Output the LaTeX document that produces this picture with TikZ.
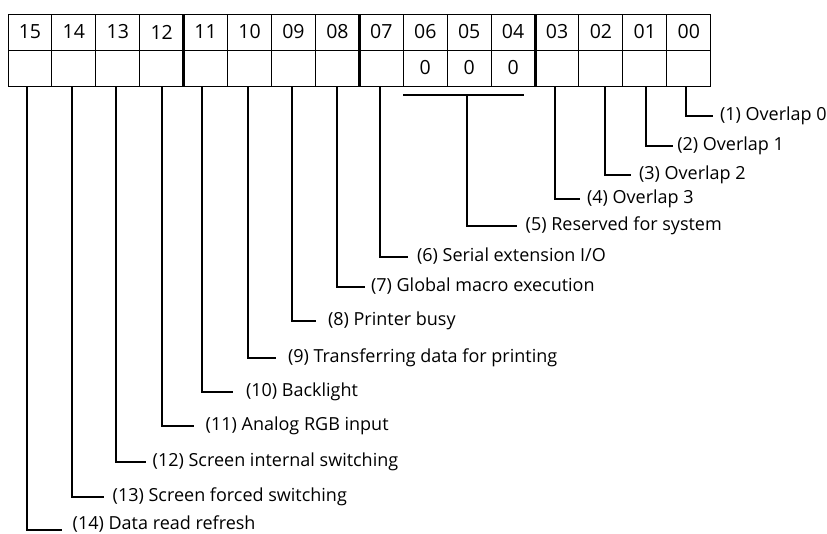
\documentclass[tikz,border=0pt]{standalone}
\usepackage{fontspec}
\setmainfont{Open Sans}
\begin{document}
\begin{tikzpicture}[x=1pt,y=-1pt,
  cell/.style={draw=black,line width=1pt,minimum width=43.92pt,minimum height=36pt,inner sep=0pt,outer sep=0pt,font=\fontsize{19.5}{22}\selectfont},
  divider/.style={line width=3pt},
  conn/.style={line width=2pt},
  lab/.style={anchor=west,inner sep=0pt,outer sep=0pt,text height=13.5pt,text depth=4.5pt,font=\fontsize{18}{21}\selectfont}]
\useasboundingbox (0,0) rectangle (827,533);
% bit table
\foreach \b/\v [count=\i from 0] in {15/,14/,13/,12/,11/,10/,09/,08/,07/,06/0,05/0,04/0,03/,02/,01/,00/}{
  \node[cell] (h\b) at ({8+43.92*(\i+0.5)},32) {\b};
  \node[cell] (c\b) at ({8+43.92*(\i+0.5)},68) {\v};
}
\draw[divider] (h12.north east) -- (c12.south east);
\draw[divider] (h08.north east) -- (c08.south east);
\draw[divider] (h04.north east) -- (c04.south east);
% labels
\node[lab] (l1)  at (720,115.7)   {(1) Overlap 0};
\node[lab] (l2)  at (677.3,145.7) {(2) Overlap 1};
\node[lab] (l3)  at (639,174.5)   {(3) Overlap 2};
\node[lab] (l4)  at (587,199.3)   {(4) Overlap 3};
\node[lab] (l5)  at (525.7,226)   {(5) Reserved for system};
\node[lab] (l6)  at (417,256.7)   {(6) Serial extension I/O};
\node[lab] (l7)  at (371,286.7)   {(7) Global macro execution};
\node[lab] (l8)  at (328,321)     {(8) Printer busy};
\node[lab] (l9)  at (288,358.3)   {(9) Transferring data for printing};
\node[lab] (l10) at (246,391.7)   {(10) Backlight};
\node[lab] (l11) at (205.7,426)   {(11) Analog RGB input};
\node[lab] (l12) at (152.7,462.3) {(12) Screen internal switching};
\node[lab] (l13) at (112.7,496.7) {(13) Screen forced switching};
\node[lab] (l14) at (72.7,524.5)  {(14) Data read refresh};
% connectors
\draw[conn] ([xshift=-2.7pt]c00.south) |- ([xshift=-6.7pt]l1.west);
\draw[conn] ([xshift=1.5pt]c01.south) |- ([xshift=-4pt]l2.west);
\draw[conn] ([xshift=3.7pt]c02.south) |- ([xshift=-8.3pt]l3.west);
\draw[conn] ([xshift=-2pt]c03.south) |- ([xshift=-7pt]l4.west);
\coordinate (bl) at ([yshift=-9pt]c06.south west);
\coordinate (br) at ([xshift=-11pt,yshift=-9pt]c04.south east);
\coordinate (bm) at ([xshift=-2pt,yshift=-9pt]c05.south);
\draw[conn] (bl) -- (br);
\draw[conn] (bm) |- ([xshift=-8.7pt]l5.west);
\draw[conn] ([xshift=-1.8pt]c07.south) |- ([xshift=-9pt]l6.west);
\draw[conn] ([xshift=-0.5pt]c08.south) |- ([xshift=-6pt]l7.west);
\draw[conn] ([xshift=-1pt]c09.south) |- ([xshift=-12pt]l8.west);
\draw[conn] ([xshift=-2pt]c10.south) |- ([xshift=-12pt]l9.west);
\draw[conn] ([xshift=-3.8pt]c11.south) |- ([xshift=-13pt]l10.west);
\draw[conn] ([xshift=0pt]c12.south) |- ([xshift=-11.7pt]l11.west);
\draw[conn] ([xshift=-1.6pt]c13.south) |- ([xshift=-7pt]l12.west);
\draw[conn] ([xshift=-1.6pt]c14.south) |- ([xshift=-8.7pt]l13.west);
\draw[conn] ([xshift=-2.5pt]c15.south) |- ([xshift=-11pt,yshift=-5.5pt]l14.west);
\end{tikzpicture}
\end{document}
